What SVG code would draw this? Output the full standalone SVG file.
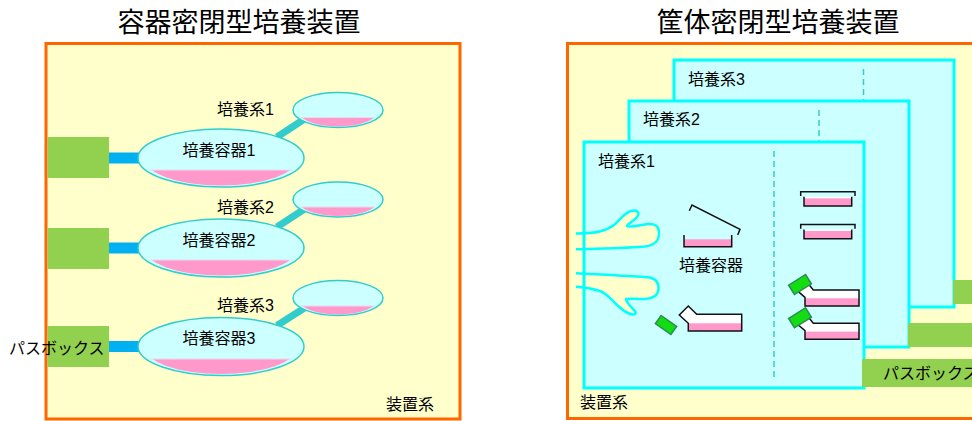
<svg xmlns="http://www.w3.org/2000/svg" width="972" height="421" viewBox="0 0 972 421">
<style>
  text { font-family: "Liberation Sans", "Noto Sans CJK JP", sans-serif; fill: #000; }
  .title { font-size: 27px; text-anchor: middle; }
  .lbl { font-size: 16px; }
  .mid { text-anchor: middle; }
  .frame { fill: #FFFFCC; stroke: #FF6600; stroke-width: 3; }
  .box { fill: #92D050; }
  .vessel { fill: #CCFFFF; }
  .vessel-edge { fill: none; stroke: #33CCCC; stroke-width: 1.5; }
  .medium { fill: #FF99CC; }
  .sheen { stroke: #EBD9EE; stroke-width: 1.2; }
  .panel { fill: #CCFFFF; stroke: #00FFFF; stroke-width: 3; }
  .panel-fill { fill: #CCFFFF; }
  .panel-edge { fill: none; stroke: #00FFFF; stroke-width: 3; }
  .divider { fill: none; stroke: #33CCCC; stroke-width: 1.5; stroke-dasharray: 6 4; }
  .ware { fill: none; stroke: #111; stroke-width: 1.5; }
  .white { fill: #FFFFFF; }
  .cap { fill: #11DD11; stroke: #2E8B57; stroke-width: 1.5; }
  .hand { fill: #FFFFCC; }
  .hand-edge { fill: none; stroke: #00FFFF; stroke-width: 2.5; stroke-linejoin: round; }
  .pipe { stroke: #00B0F0; stroke-width: 11; }
  .tube { stroke: #33CCCC; stroke-width: 7; }
</style>
<defs>
  <clipPath id="cBig1"><ellipse cx="221" cy="158" rx="77" ry="27.5"/></clipPath>
  <clipPath id="cBig2"><ellipse cx="221" cy="248" rx="77" ry="27.5"/></clipPath>
  <clipPath id="cBig3"><ellipse cx="221" cy="346.5" rx="77" ry="27.5"/></clipPath>
  <clipPath id="cSm1"><ellipse cx="338" cy="110" rx="41" ry="16.5"/></clipPath>
  <clipPath id="cSm2"><ellipse cx="338" cy="199.5" rx="41" ry="16.5"/></clipPath>
  <clipPath id="cSm3"><ellipse cx="338" cy="298" rx="41" ry="16.5"/></clipPath>
</defs>

<!-- ===== Vessel-sealed incubator ===== -->
<text class="title" x="239" y="32">容器密閉型培養装置</text>
<g id="device-left">
  <rect class="frame" x="46" y="43.5" width="414" height="375.5"/>
  <text class="lbl" x="386" y="409.5">装置系</text>
</g>

<g id="connectors">
  <line class="pipe" x1="108" y1="158" x2="141" y2="158"/>
  <line class="pipe" x1="108" y1="248" x2="141" y2="248"/>
  <line class="pipe" x1="108" y1="346.5" x2="141" y2="346.5"/>
  <line class="tube" x1="277" y1="137" x2="306" y2="118"/>
  <line class="tube" x1="277" y1="227" x2="306" y2="208"/>
  <line class="tube" x1="277" y1="325.5" x2="306" y2="307"/>
</g>

<g id="passbox-1"><rect class="box" x="47.5" y="137" width="61.5" height="41"/></g>
<g id="passbox-2"><rect class="box" x="47.5" y="228" width="61.5" height="41"/></g>
<g id="passbox-3">
  <rect class="box" x="47.5" y="326" width="61.5" height="41"/>
  <text class="lbl" x="9" y="353.5">パスボックス</text>
</g>

<g id="vessel-1">
  <ellipse class="vessel" cx="221" cy="158" rx="83" ry="29"/>
  <rect class="medium" x="130" y="170" width="180" height="20" clip-path="url(#cBig1)"/>
  <line class="sheen" x1="150" y1="170" x2="292" y2="170"/>
  <ellipse class="vessel-edge" cx="221" cy="158" rx="83" ry="29"/>
  <text class="lbl mid" x="219" y="156">培養容器1</text>
</g>
<g id="vessel-2">
  <ellipse class="vessel" cx="221" cy="248" rx="83" ry="29"/>
  <rect class="medium" x="130" y="260" width="180" height="20" clip-path="url(#cBig2)"/>
  <line class="sheen" x1="150" y1="260" x2="292" y2="260"/>
  <ellipse class="vessel-edge" cx="221" cy="248" rx="83" ry="29"/>
  <text class="lbl mid" x="219" y="246">培養容器2</text>
</g>
<g id="vessel-3">
  <ellipse class="vessel" cx="221" cy="346.5" rx="83" ry="29"/>
  <rect class="medium" x="130" y="359" width="180" height="20" clip-path="url(#cBig3)"/>
  <line class="sheen" x1="150" y1="359" x2="292" y2="359"/>
  <ellipse class="vessel-edge" cx="221" cy="346.5" rx="83" ry="29"/>
  <text class="lbl mid" x="219" y="343.5">培養容器3</text>
</g>

<g id="system-1">
  <ellipse class="vessel" cx="338" cy="110" rx="45" ry="17.5"/>
  <rect class="medium" x="290" y="117.5" width="96" height="14" clip-path="url(#cSm1)"/>
  <line class="sheen" x1="301" y1="117.5" x2="375" y2="117.5"/>
  <ellipse class="vessel-edge" cx="338" cy="110" rx="45" ry="17.5"/>
  <text class="lbl" x="217" y="115">培養系1</text>
</g>
<g id="system-2">
  <ellipse class="vessel" cx="338" cy="199.5" rx="45" ry="17.5"/>
  <rect class="medium" x="290" y="207" width="96" height="14" clip-path="url(#cSm2)"/>
  <line class="sheen" x1="301" y1="207" x2="375" y2="207"/>
  <ellipse class="vessel-edge" cx="338" cy="199.5" rx="45" ry="17.5"/>
  <text class="lbl" x="217" y="213">培養系2</text>
</g>
<g id="system-3">
  <ellipse class="vessel" cx="338" cy="298" rx="45" ry="17.5"/>
  <rect class="medium" x="290" y="306" width="96" height="14" clip-path="url(#cSm3)"/>
  <line class="sheen" x1="301" y1="306" x2="375" y2="306"/>
  <ellipse class="vessel-edge" cx="338" cy="298" rx="45" ry="17.5"/>
  <text class="lbl" x="217" y="311">培養系3</text>
</g>

<!-- ===== Housing-sealed incubator ===== -->
<text class="title" x="778" y="32">筐体密閉型培養装置</text>
<g id="device-right">
  <rect class="frame" x="567.5" y="43.5" width="440" height="375"/>
  <text class="lbl" x="580" y="408">装置系</text>
</g>

<g id="chamber-3">
  <rect class="panel" x="674" y="60" width="280" height="247"/>
  <line class="divider" x1="863.5" y1="69" x2="863.5" y2="101"/>
  <text class="lbl" x="688" y="85">培養系3</text>
</g>
<g id="passbox-r3"><rect class="box" x="953" y="280" width="25" height="24"/></g>

<g id="chamber-2">
  <rect class="panel" x="629" y="101" width="280" height="246"/>
  <line class="divider" x1="819" y1="110" x2="819" y2="142"/>
  <text class="lbl" x="643" y="125">培養系2</text>
</g>
<g id="passbox-r2"><rect class="box" x="908" y="323" width="70" height="24"/></g>

<g id="chamber-1">
  <rect class="panel-fill" x="584" y="142" width="280" height="246"/>
  <!-- operator's hand reaching in through the glove port -->
  <g id="hand">
    <path class="hand" d="M576,233.5 C596,233.5 606,231 614,225 C620,220 624,213 631,211 C636,209.5 641,212 637,217 C634,221 628,223 627,226 C630,228 640,225 648,224 C655,223.5 659,226 659,233 C659,240 656,245 645,246.5 C630,248 600,248.5 576,249.3 Z"/>
    <path class="hand-edge" d="M576,233.5 C596,233.5 606,231 614,225 C620,220 624,213 631,211 C636,209.5 641,212 637,217 C634,221 628,223 627,226 C630,228 640,225 648,224 C655,223.5 659,226 659,233 C659,240 656,245 645,246.5 C630,248 600,248.5 576,249.3"/>
    <path class="hand" d="M576,273.3 C600,274.5 630,276 650,277.5 C656,279 659,283 658.5,289 C658,295 654,298.5 645,299 C638,299.5 630,298 626,299 C626,302 630,306 633,309 C636,312 637,314.5 633,314.5 C628,314 621,309 616,304 C610,298 606,293 600,291 C592,288.5 584,287 576,286.7 Z"/>
    <path class="hand-edge" d="M576,273.3 C600,274.5 630,276 650,277.5 C656,279 659,283 658.5,289 C658,295 654,298.5 645,299 C638,299.5 630,298 626,299 C626,302 630,306 633,309 C636,312 637,314.5 633,314.5 C628,314 621,309 616,304 C610,298 606,293 600,291 C592,288.5 584,287 576,286.7"/>
  </g>
  <rect class="panel-edge" x="584" y="142" width="280" height="246"/>
  <line class="divider" x1="774" y1="151" x2="774" y2="380"/>
  <text class="lbl" x="598" y="166.5">培養系1</text>

  <!-- open dish with lid lifted -->
  <g id="dish-open">
    <rect class="medium" x="684" y="239.3" width="47.7" height="7.4"/>
    <polyline class="ware" points="684,235 684,246.7 731.7,246.7 731.7,235"/>
    <polyline class="ware" points="689.3,210.7 692,205 740,229.3 737.7,235"/>
    <text class="lbl mid" x="711" y="271">培養容器</text>
  </g>

  <!-- flask with cap removed -->
  <g id="flask-open">
    <polygon class="white" points="688.3,331 688.3,323.3 679.3,315 688.3,306 696.7,314.3 741.7,314.3 741.7,331"/>
    <rect class="medium" x="688.3" y="323.3" width="53.4" height="7.7"/>
    <polygon class="ware" points="688.3,331 688.3,323.3 679.3,315 688.3,306 696.7,314.3 741.7,314.3 741.7,331"/>
    <rect class="cap" x="-9.5" y="-5" width="19" height="10" transform="translate(666,325) rotate(35)"/>
  </g>

  <!-- closed dishes -->
  <g id="dish-a">
    <rect class="white" x="804" y="196.7" width="47.7" height="9.3"/>
    <rect class="medium" x="804" y="198.3" width="47.7" height="7.7"/>
    <polyline class="ware" points="804,196.7 804,206 851.7,206 851.7,196.7"/>
    <polyline class="ware" points="800.7,196 800.7,191.7 855,191.7 855,196"/>
  </g>
  <g id="dish-b" transform="translate(0,32.7)">
    <rect class="white" x="804" y="196.7" width="47.7" height="9.3"/>
    <rect class="medium" x="804" y="198.3" width="47.7" height="7.7"/>
    <polyline class="ware" points="804,196.7 804,206 851.7,206 851.7,196.7"/>
    <polyline class="ware" points="800.7,196 800.7,191.7 855,191.7 855,196"/>
  </g>

  <!-- capped flasks -->
  <g id="flask-a">
    <polygon class="white" points="809.3,285 813.3,290 859,290 859,306 805,306 805,297.3 798.3,291.7"/>
    <rect class="medium" x="805" y="298.3" width="54" height="7.7"/>
    <polyline class="ware" points="809.3,285 813.3,290 859,290 859,306 805,306 805,297.3 798.3,291.7"/>
    <rect class="cap" x="-10" y="-5.5" width="20" height="11" transform="translate(800,284.5) rotate(-32)"/>
  </g>
  <g id="flask-b" transform="translate(0,33.3)">
    <polygon class="white" points="809.3,285 813.3,290 859,290 859,306 805,306 805,297.3 798.3,291.7"/>
    <rect class="medium" x="805" y="298.3" width="54" height="7.7"/>
    <polyline class="ware" points="809.3,285 813.3,290 859,290 859,306 805,306 805,297.3 798.3,291.7"/>
    <rect class="cap" x="-10" y="-5.5" width="20" height="11" transform="translate(800,284.5) rotate(-32)"/>
  </g>
</g>

<g id="passbox-r1">
  <rect class="box" x="862" y="359" width="116" height="28"/>
  <text class="lbl" x="883" y="379">パスボックス</text>
</g>
</svg>
